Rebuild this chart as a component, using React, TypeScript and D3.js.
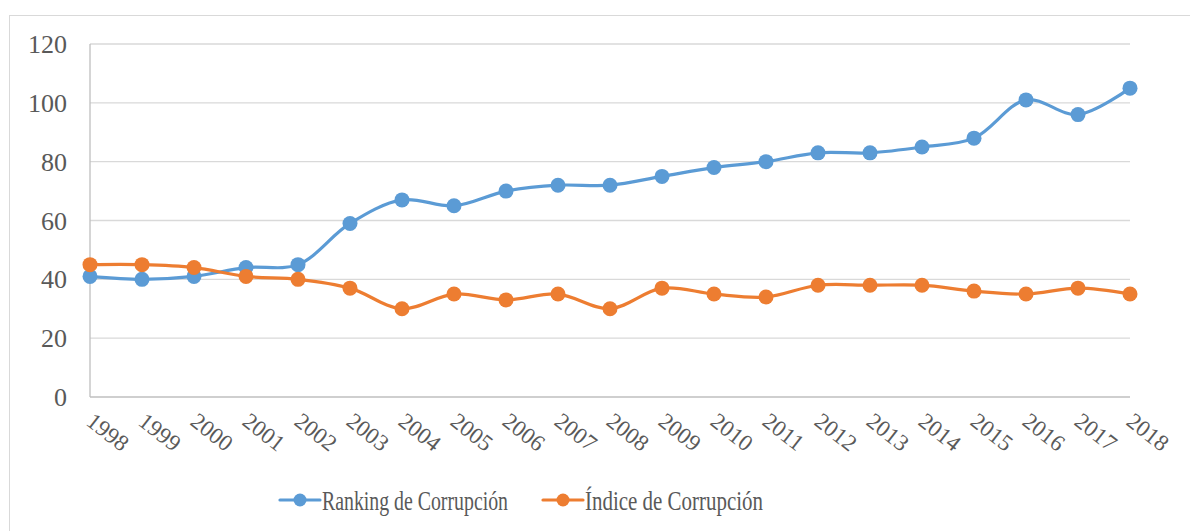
import React from "react";
import * as d3 from "d3";

const years = [
  "1998", "1999", "2000", "2001", "2002", "2003", "2004", "2005", "2006", "2007", "2008",
  "2009", "2010", "2011", "2012", "2013", "2014", "2015", "2016", "2017", "2018",
];
const ranking = [41, 40, 41, 44, 45, 59, 67, 65, 70, 72, 72, 75, 78, 80, 83, 83, 85, 88, 101, 96, 105];
const indice = [45, 45, 44, 41, 40, 37, 30, 35, 33, 35, 30, 37, 35, 34, 38, 38, 38, 36, 35, 37, 35];
const yTicks = [0, 20, 40, 60, 80, 100, 120];

const seriesList = [
  { name: "Ranking de Corrupción", values: ranking, color: "#5B9BD5", textLen: 186 },
  { name: "Índice de Corrupción", values: indice, color: "#ED7D31", textLen: 178 },
];

const W = 1190;
const H = 531;
const font = "'Liberation Serif', 'Times New Roman', serif";

export default function App() {
  // plot area in page pixels
  const x = d3.scalePoint<string>().domain(years).range([90, 1130]);
  const y = d3.scaleLinear().domain([0, 120]).range([397, 44]);

  const line = d3
    .line<number>()
    .x((_, i) => x(years[i])!)
    .y((d) => y(d))
    .curve(d3.curveCatmullRom.alpha(0.5));

  const legendX = [280, 543];

  return (
    <svg
      width={W}
      height={H}
      style={{ position: "absolute", left: 0, top: 0, background: "#fff" }}
      fontFamily={font}
    >
      <rect x={9.5} y={15.5} width={W} height={H} fill="#fff" stroke="#d9d9d9" />

      {/* gridlines */}
      {yTicks.slice(1).map((t) => (
        <line key={t} x1={90} x2={1130} y1={y(t)} y2={y(t)} stroke="#d9d9d9" strokeWidth={1.3} />
      ))}
      <line x1={90} x2={1130} y1={y(0)} y2={y(0)} stroke="#bfbfbf" strokeWidth={1.3} />
      <line x1={90} x2={90} y1={y(0)} y2={y(120)} stroke="#bfbfbf" strokeWidth={1.3} />

      {/* y labels */}
      {yTicks.map((t) => (
        <text
          key={t}
          x={67}
          y={y(t)}
          dy="0.35em"
          textAnchor="end"
          fontSize={26}
          fill="#595959"
        >
          {t}
        </text>
      ))}

      {/* x labels */}
      {years.map((yr) => (
        <text
          key={yr}
          transform={`translate(${x(yr)! - 5},${424}) rotate(38)`}
          fontSize={23}
          fill="#595959"
        >
          {yr}
        </text>
      ))}

      {/* series */}
      {seriesList.map((s) => (
        <g key={s.name}>
          <path d={line(s.values) ?? ""} fill="none" stroke={s.color} strokeWidth={3.2} strokeLinecap="round" />
          {s.values.map((v, i) => (
            <circle key={i} cx={x(years[i])} cy={y(v)} r={7.5} fill={s.color} />
          ))}
        </g>
      ))}

      {/* legend */}
      {seriesList.map((s, i) => (
        <g key={s.name} transform={`translate(${legendX[i]},500)`}>
          <line x1={0} x2={40} y1={0} y2={0} stroke={s.color} strokeWidth={3.2} strokeLinecap="round" />
          <circle cx={20} cy={0} r={6.5} fill={s.color} />
          <text
            x={42}
            y={0}
            dy="0.35em"
            fontSize={28}
            fill="#595959"
            textLength={s.textLen}
            lengthAdjust="spacingAndGlyphs"
          >
            {s.name}
          </text>
        </g>
      ))}
    </svg>
  );
}
